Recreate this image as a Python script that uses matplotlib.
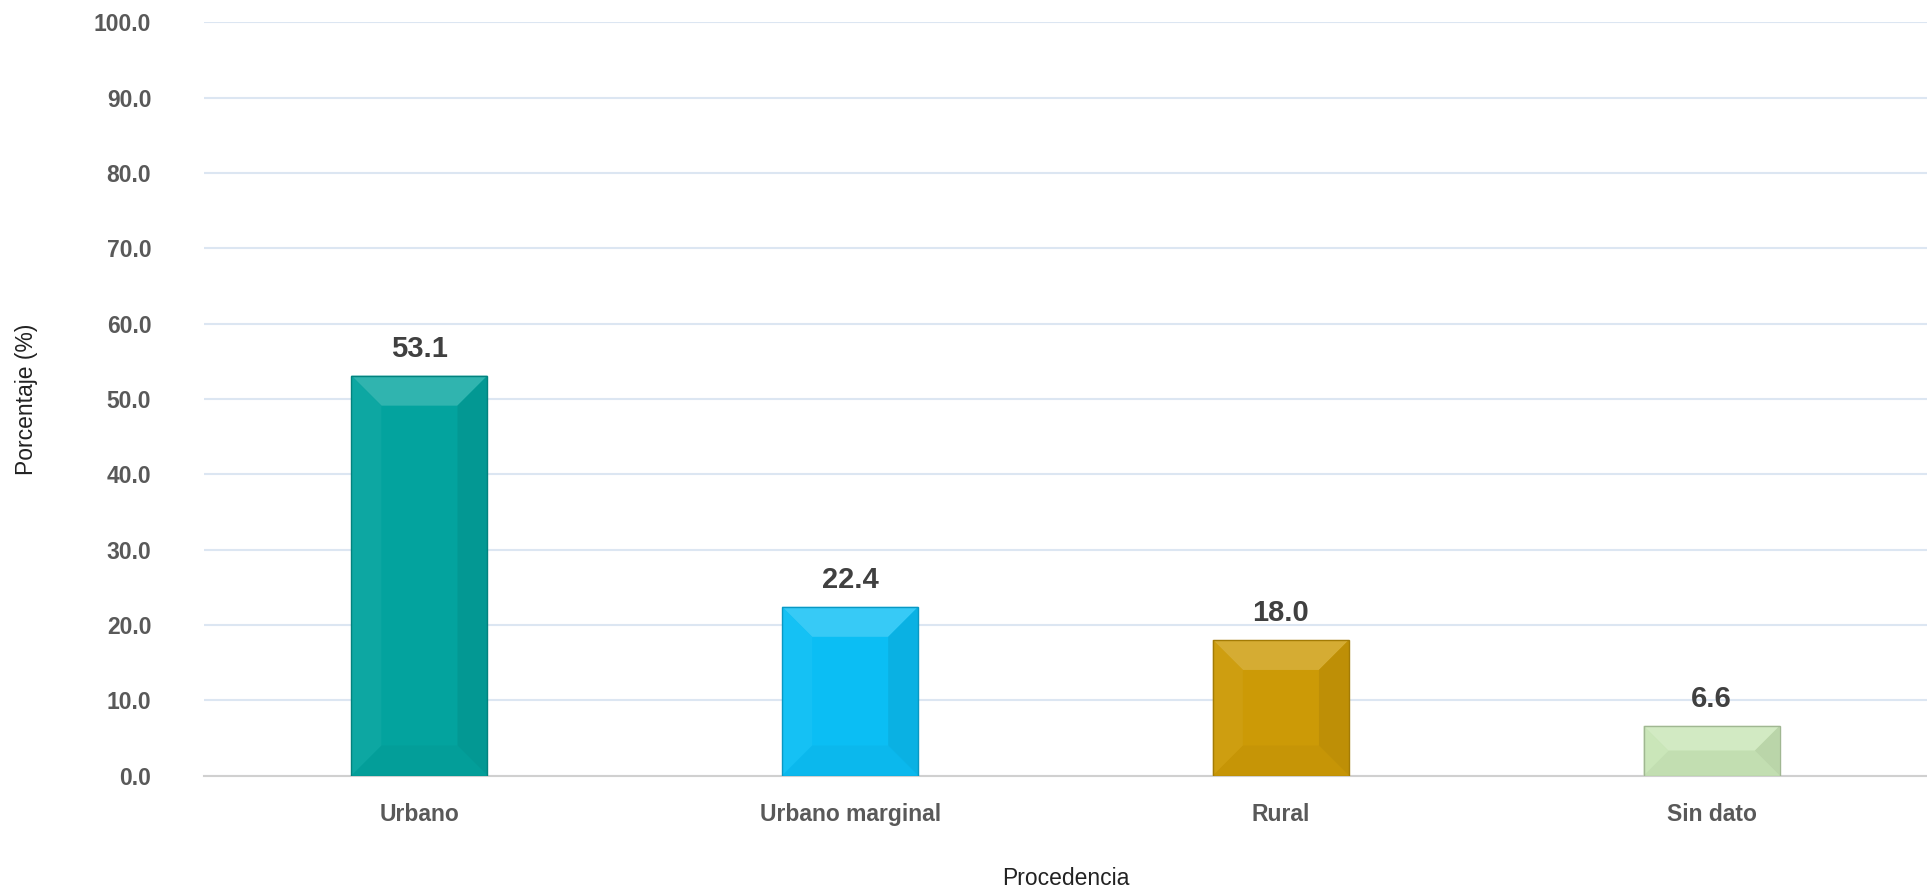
import matplotlib.pyplot as plt
from matplotlib.patches import Polygon
import matplotlib.colors as mcolors
import numpy as np

categorias = ["Urbano", "Urbano marginal", "Rural", "Sin dato"]
porcentajes = [53.1, 22.4, 18.0, 6.6]
colores = ["#03A39E", "#0BBEF4", "#CC9A06", "#C8E5B6"]
ticks_y = np.arange(0, 101, 10)

plt.rcParams['font.family'] = ['Liberation Sans', 'DejaVu Sans']

fig = plt.figure(figsize=(19.27, 8.92), dpi=100)
ax = fig.add_axes([0.1059, 0.1306, 0.8941, 0.8442])

x = np.arange(len(categorias))
barras = ax.bar(x, porcentajes, width=0.316, color=colores,
                edgecolor="none", zorder=3)

ax.set_xlim(-0.5, len(categorias) - 0.5)
ax.set_ylim(0, 100)
ax.set_yticks(ticks_y)
ax.set_yticklabels(["%.1f" % t for t in ticks_y], fontsize=16.5, fontweight="bold", color="#595959")
ax.set_xticks(x)
ax.set_xticklabels(categorias, fontsize=16.5, fontweight="bold", color="#595959")
ax.tick_params(length=0, pad=38, axis="y")
ax.tick_params(length=0, pad=20, axis="x")

ax.grid(axis="y", color="#DCE6F2", linewidth=1.5, zorder=0)
for s in ["top", "right", "left"]:
    ax.spines[s].set_visible(False)
ax.spines["bottom"].set_color("#D0D0D0")
ax.spines["bottom"].set_linewidth(1.5)

ax.set_ylabel("Porcentaje (%)", fontsize=16.5, color="#222222", labelpad=40)
ax.set_xlabel("Procedencia", fontsize=16.5, color="#222222", labelpad=29)

# efecto biselado
fig.canvas.draw()
def mezclar(c, otro, f):
    a = np.array(mcolors.to_rgb(c))
    b = np.array(mcolors.to_rgb(otro))
    return tuple(a * (1 - f) + b * f)

inv = ax.transData.inverted()
for b, c in zip(barras, colores):
    x0, y0, x1, y1 = b.get_window_extent().extents
    d = min(30, (y1 - y0) / 2)
    caras = [
        ([(x0, y1), (x1, y1), (x1 - d, y1 - d), (x0 + d, y1 - d)], mezclar(c, "white", 0.18)),
        ([(x0, y0), (x1, y0), (x1 - d, y0 + d), (x0 + d, y0 + d)], mezclar(c, "black", 0.03)),
        ([(x0, y0), (x0, y1), (x0 + d, y1 - d), (x0 + d, y0 + d)], mezclar(c, "white", 0.04)),
        ([(x1, y0), (x1, y1), (x1 - d, y1 - d), (x1 - d, y0 + d)], mezclar(c, "black", 0.07)),
    ]
    for pts, col in caras:
        pd = inv.transform(pts)
        ax.add_patch(Polygon(pd, closed=True, facecolor=col, edgecolor="none", zorder=4))
    ax.add_patch(plt.Rectangle((b.get_x(), 0), b.get_width(), b.get_height(), fill=False,
                               edgecolor=mezclar(c, "black", 0.2), linewidth=1, zorder=5))

for xi, v in zip(x, porcentajes):
    ax.annotate("%.1f" % v, (xi, v), xytext=(0, 9), textcoords="offset points",
                ha="center", va="bottom", fontsize=21, fontweight="bold", color="#404040")

fig.savefig("out.png", dpi=100)
